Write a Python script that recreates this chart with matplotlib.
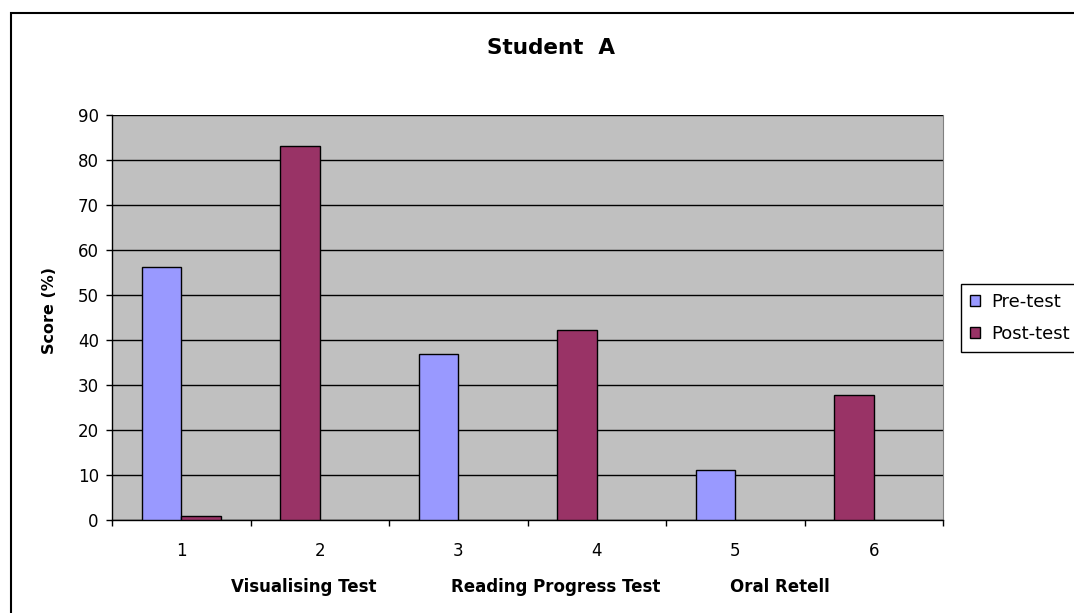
import matplotlib.pyplot as plt
from matplotlib.patches import Rectangle, Patch

plt.rcParams['font.family'] = ['DejaVu Sans']

# data
positions = [1, 2, 3, 4, 5, 6]
tick_labels = ['1', '2', '3', '4', '5', '6']
test_names = ['Visualising Test', 'Reading Progress Test', 'Oral Retell']
first_scores = [56.2, 83.2, 36.9, 42.2, 11.2, 27.8]
first_kind = ['Pre-test', 'Post-test', 'Pre-test', 'Post-test', 'Pre-test', 'Post-test']
second_scores = [1.0, 0, 0, 0, 0, 0]
second_kind = ['Post-test'] * 6

colors = {'Pre-test': '#9999FF', 'Post-test': '#993366'}
bw = 1 / 3.5

fig = plt.figure(figsize=(10.74, 6.13), dpi=100)
ax = fig.add_axes([112 / 1074, 1 - 520 / 613, 831 / 1074, 405 / 613])
ax.set_facecolor('#C0C0C0')

for p, v, k in zip(positions, first_scores, first_kind):
    if v > 0:
        ax.bar(p - bw / 2, v, width=bw, color=colors[k], edgecolor='black', linewidth=1, zorder=3)
for p, v, k in zip(positions, second_scores, second_kind):
    if v > 0:
        ax.bar(p + bw / 2, v, width=bw, color=colors[k], edgecolor='black', linewidth=1, zorder=3)

ax.set_xlim(0.5, 6.5)
ax.set_ylim(0, 90)
ax.set_yticks(range(0, 91, 10))
ax.yaxis.grid(True, color='black', linewidth=1)
ax.set_axisbelow(True)
ax.set_xticks(positions)
ax.set_xticklabels(tick_labels)
ax.set_xticks([x + 0.5 for x in range(0, 7)], minor=True)
ax.tick_params(axis='x', which='major', length=0, pad=16, labelsize=12)
ax.tick_params(axis='x', which='minor', length=4.5, width=1, direction='out')
ax.tick_params(axis='y', length=4.5, width=1, pad=5, labelsize=12)

ax.spines['top'].set_visible(False)
ax.spines['right'].set_color('#808080')
ax.spines['left'].set_linewidth(1)
ax.spines['bottom'].set_linewidth(1)

for name, xc in zip(test_names, [304, 556, 780]):
    ax.text((xc - 112) / 831, -0.165, name, transform=ax.transAxes,
            ha='center', va='center', fontsize=12, fontweight='bold')

fig.text(49 / 1074, 1 - 310 / 613, 'Score (%)', rotation=90, ha='center', va='center',
         fontsize=11.5, fontweight='bold')
fig.text(551 / 1074, 1 - 48 / 613, 'Student  A', ha='center', va='center',
         fontsize=15.5, fontweight='bold')

handles = [Patch(facecolor=colors[k], edgecolor='black', linewidth=1) for k in ['Pre-test', 'Post-test']]
fig.legend(handles, ['Pre-test', 'Post-test'], loc='upper left',
           bbox_to_anchor=(961 / 1074, 1 - 284 / 613), borderaxespad=0, fontsize=13,
           handlelength=0.55, handleheight=0.55, handletextpad=0.6, labelspacing=0.75,
           borderpad=0.5, fancybox=False, framealpha=1, edgecolor='black')

fig.patches.append(Rectangle((11 / 1074, -0.1), 1.2, 1.1 - 13 / 613, transform=fig.transFigure,
                             fill=False, edgecolor='black', linewidth=1.5))

fig.savefig('out.png', dpi=100)
